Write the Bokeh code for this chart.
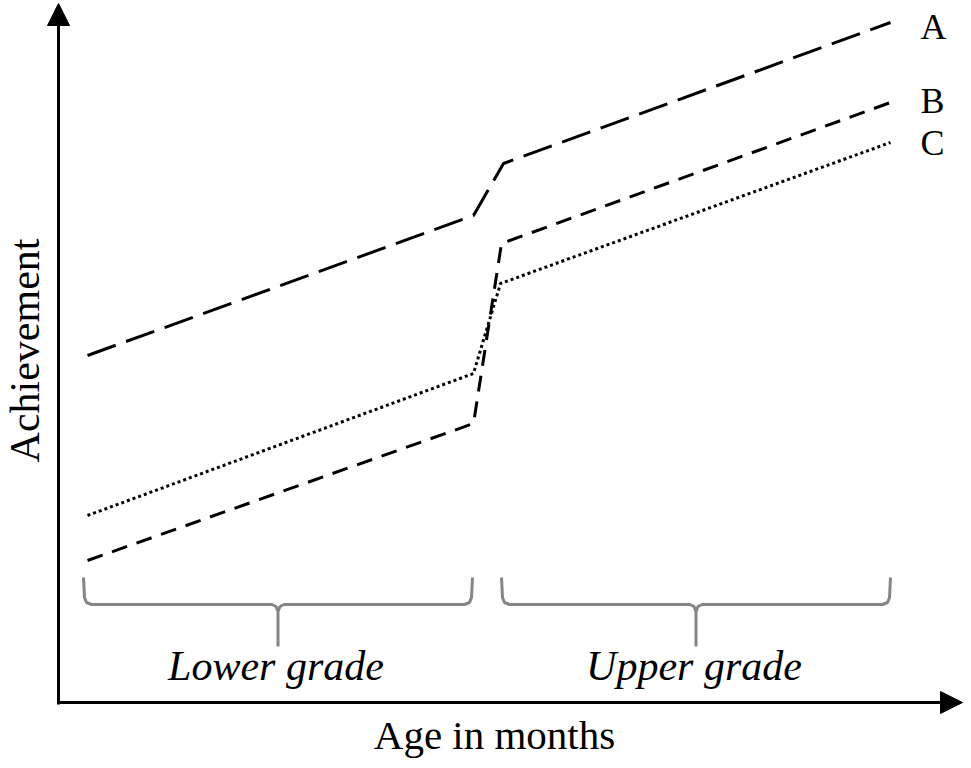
from bokeh.plotting import figure
from bokeh.models import Range1d, Arrow, NormalHead
from bokeh.core.properties import value
from bokeh.embed import file_html
from bokeh.resources import INLINE
import math

# ---- data (arbitrary schematic units; y increases upward) ----
age_A = [87, 473, 503, 890]
ach_A = [413, 553, 605, 746]
age_B = [87, 473, 501, 890]
ach_B = [208, 345, 525, 666]
age_C = [87, 473, 500, 890]
ach_C = [253, 395, 485, 626]
series_names = ["A", "B", "C"]

grade_names = ["Lower grade", "Upper grade"]
grade_start = [83, 501]
grade_end = [472, 890]

FONT = value("Liberation Serif")

p = figure(width=963, height=760, output_backend="svg", toolbar_location=None,
           x_range=Range1d(0, 963), y_range=Range1d(8, 768),
           x_axis_location=None, y_axis_location=None, min_border=0)
p.grid.visible = False
p.outline_line_color = None
p.background_fill_color = "white"

# axes with arrow heads
p.add_layout(Arrow(end=NormalHead(size=22, fill_color="black", line_color="black"),
                   x_start=58, y_start=64, x_end=58, y_end=765,
                   line_width=3, line_color="black"))
p.add_layout(Arrow(end=NormalHead(size=22, fill_color="black", line_color="black"),
                   x_start=57, y_start=66, x_end=962, y_end=66,
                   line_width=3, line_color="black"))

# series
p.line(age_A, ach_A, line_width=3, line_color="black", line_dash="30 11")
p.line(age_B, ach_B, line_width=3, line_color="black", line_dash="16 10")
p.line(age_C, ach_C, line_width=3, line_color="black", line_dash="3 3")

p.text(x=[933, 932, 932], y=[ach_A[-1] - 4, ach_B[-1] + 2, ach_C[-1]], text=series_names,
       text_font=FONT, text_font_size="36px", text_align="center",
       text_baseline="middle", text_color="black")

# braces
top, bot, tip = 191, 164, 122
for x0, x1, name in zip(grade_start, grade_end, grade_names):
    xc = (x0 + x1) / 2
    bx = [x0, x0 + 1, x0 + 3, x0 + 8, xc - 6, xc - 2, xc, xc, xc, xc + 2, xc + 6, x1 - 8, x1 - 3, x1 - 1, x1]
    by = [top, bot + 7, bot + 2, bot, bot, bot - 2, bot - 7, tip, bot - 7, bot - 2, bot, bot, bot + 2, bot + 7, top]
    p.line(bx, by, line_width=3, line_color="#858585")
    p.text(x=[xc - 2], y=[103], text=[name], text_font=FONT, text_font_style="italic",
           text_font_size="42px", text_align="center", text_baseline="middle",
           text_color="black")

# axis titles
p.text(x=[494], y=[34], text=["Age in months"], text_font=FONT, text_font_size="41px",
       text_align="center", text_baseline="middle", text_color="black")
p.text(x=[24], y=[418], text=["Achievement"], angle=math.pi / 2, text_font=FONT,
       text_font_size="42px", text_align="center", text_baseline="middle",
       text_color="black")

open("out.html", "w").write(file_html(p, INLINE))
